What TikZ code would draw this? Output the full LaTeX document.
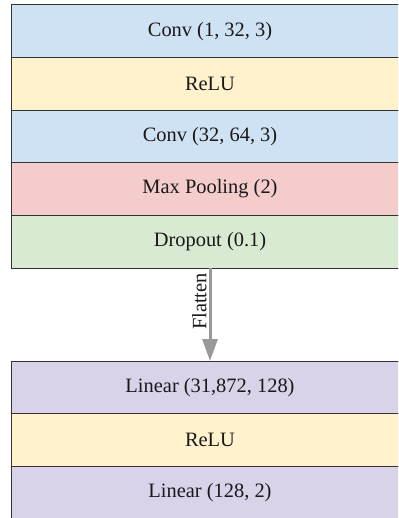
\documentclass[tikz,border=0pt]{standalone}
\usepackage{fontspec}
\setmainfont{Liberation Serif}
\usetikzlibrary{arrows.meta}
\definecolor{cblue}{HTML}{CFE2F3}
\definecolor{cyellow}{HTML}{FFF2CC}
\definecolor{cred}{HTML}{F4CCCC}
\definecolor{cgreen}{HTML}{D9EAD3}
\definecolor{cpurple}{HTML}{D9D2E9}
\definecolor{cline}{HTML}{333333}
\definecolor{carrow}{HTML}{999999}
\tikzset{
  layer/.style={draw=cline, line width=1bp, minimum width=396bp, minimum height=52.6bp,
    inner sep=0pt, outer sep=0pt, font=\fontsize{20.5}{24}\selectfont, text=black!90},
}
\begin{document}
\begin{tikzpicture}[x=1bp,y=-1bp]
\clip (0,0) rectangle (398,518);
\fill[white] (0,0) rectangle (398,518);
\node[layer, fill=cblue]   (c1) at (210,31.3)  {Conv (1, 32, 3)};
\node[layer, fill=cyellow] (r1) at (210,83.9)  {ReLU};
\node[layer, fill=cblue]   (c2) at (210,136.5) {Conv (32, 64, 3)};
\node[layer, fill=cred]    (mp) at (210,189.1) {Max Pooling (2)};
\node[layer, fill=cgreen]  (dr) at (210,241.7) {Dropout (0.1)};
\node[layer, fill=cpurple] (l1) at (210,387.3) {Linear (31,872, 128)};
\node[layer, fill=cyellow] (r2) at (210,439.9) {ReLU};
\node[layer, fill=cpurple] (l2) at (210,492.5) {Linear (128, 2)};
\draw[carrow, line width=3bp, -{Triangle[width=15bp,length=22bp]}] (dr.south) -- (l1.north)
  node[pos=0.36, rotate=90, above=1bp, text=black!90, font=\fontsize{20.5}{24}\selectfont, inner sep=1bp] (fl) {Flatten};
\end{tikzpicture}
\end{document}
